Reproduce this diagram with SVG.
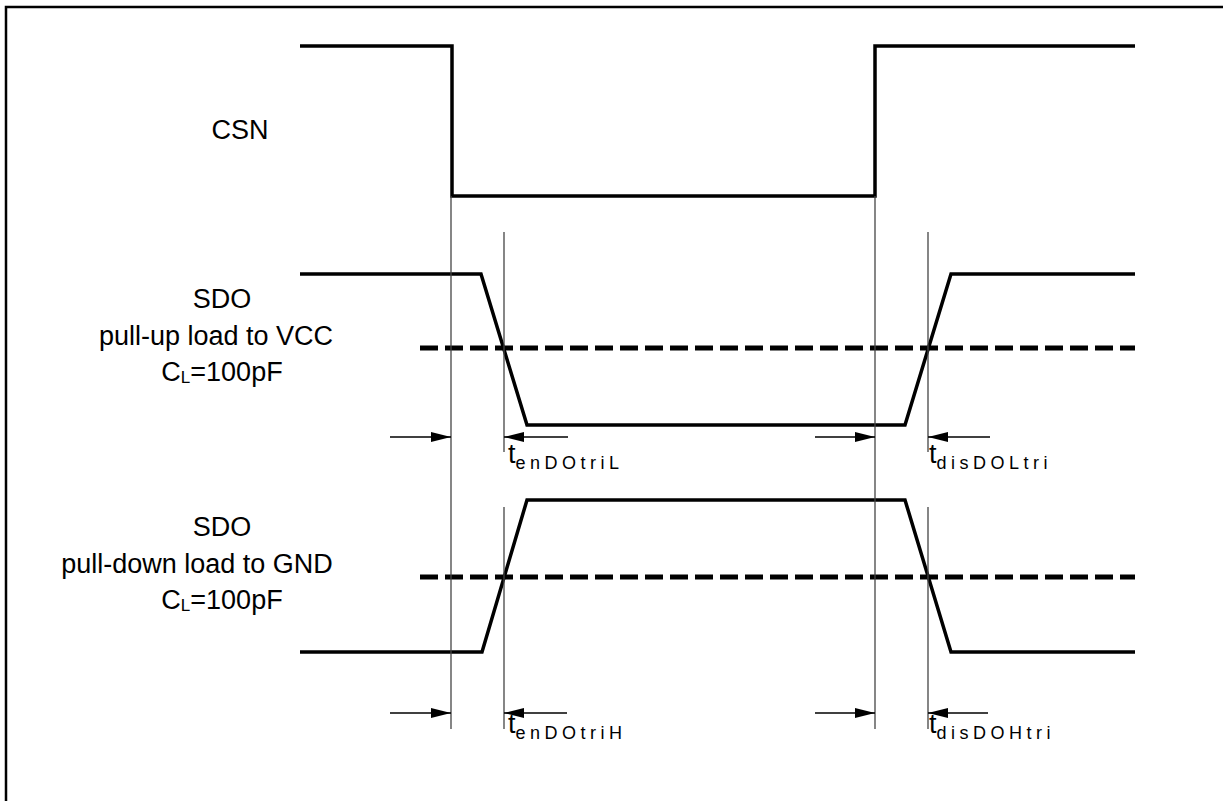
<svg xmlns="http://www.w3.org/2000/svg" width="1223" height="801" viewBox="0 0 1223 801">
<defs>
<style>
.wave{fill:none;stroke:#000;stroke-width:3.5;stroke-linejoin:miter}
.dash{fill:none;stroke:#000;stroke-width:5;stroke-dasharray:18 7}
.guide{stroke:#444;stroke-width:1.3}
.dim{stroke:#000;stroke-width:1.3;fill:none}
.lbl{font-family:"Liberation Sans",Arial,sans-serif;font-size:27px;fill:#000}
.t{font-family:"Liberation Sans",Arial,sans-serif;font-size:27px;fill:#000}
.sub{font-size:18px;letter-spacing:4.5px}
.csub{font-size:17px}
</style>
<marker id="ah" viewBox="0 0 20 10" refX="20" refY="5" markerWidth="20" markerHeight="10" markerUnits="userSpaceOnUse" orient="auto">
<path d="M0,0 L20,5 L0,10 Z" fill="#000"/>
</marker>
</defs>
<rect width="1223" height="801" fill="#fff"/>
<rect x="6" y="7" width="1240" height="820" fill="none" stroke="#000" stroke-width="2.5"/>

<g id="csn">
<path class="wave" d="M300,46 H452 V196 H875 V46 H1135"/>
<text class="lbl" x="240" y="139" text-anchor="middle">CSN</text>
</g>

<g id="sdo-pullup">
<path class="wave" d="M300,274 H481 L527,425 H905 L951,274 H1135"/>
<line class="dash" x1="420" y1="348" x2="1135" y2="348"/>
<text class="lbl" x="222" y="308" text-anchor="middle">SDO</text>
<text class="lbl" x="216" y="345" text-anchor="middle">pull-up load to VCC</text>
<text class="lbl" x="222" y="381" text-anchor="middle">C<tspan class="csub" dy="2">L</tspan><tspan dy="-2">=100pF</tspan></text>
</g>

<g id="sdo-pulldown">
<path class="wave" d="M300,652 H482 L527,500 H905 L951,652 H1135"/>
<line class="dash" x1="420" y1="577" x2="1135" y2="577"/>
<text class="lbl" x="222" y="536" text-anchor="middle">SDO</text>
<text class="lbl" x="197" y="573" text-anchor="middle">pull-down load to GND</text>
<text class="lbl" x="222" y="609" text-anchor="middle">C<tspan class="csub" dy="2">L</tspan><tspan dy="-2">=100pF</tspan></text>
</g>

<g id="timing-labels">
<text class="t" x="508" y="463">t<tspan class="sub" dy="6">enDOtriL</tspan></text>
<text class="t" x="929" y="463">t<tspan class="sub" dy="6">disDOLtri</tspan></text>
<text class="t" x="508" y="733">t<tspan class="sub" dy="6">enDOtriH</tspan></text>
<text class="t" x="929" y="733">t<tspan class="sub" dy="6">disDOHtri</tspan></text>
</g>

<g id="connectors">
<line class="guide" x1="451" y1="196" x2="451" y2="729"/>
<line class="guide" x1="875" y1="196" x2="875" y2="729"/>
<line class="guide" x1="504" y1="232" x2="504" y2="452"/>
<line class="guide" x1="504" y1="507" x2="504" y2="729"/>
<line class="guide" x1="928" y1="232" x2="928" y2="452"/>
<line class="guide" x1="928" y1="507" x2="928" y2="729"/>
<line class="dim" x1="390" y1="437" x2="451" y2="437" marker-end="url(#ah)"/>
<line class="dim" x1="568" y1="437" x2="504" y2="437" marker-end="url(#ah)"/>
<line class="dim" x1="815" y1="437" x2="875" y2="437" marker-end="url(#ah)"/>
<line class="dim" x1="990" y1="437" x2="928" y2="437" marker-end="url(#ah)"/>
<line class="dim" x1="390" y1="713" x2="451" y2="713" marker-end="url(#ah)"/>
<line class="dim" x1="567" y1="713" x2="504" y2="713" marker-end="url(#ah)"/>
<line class="dim" x1="815" y1="713" x2="875" y2="713" marker-end="url(#ah)"/>
<line class="dim" x1="988" y1="713" x2="928" y2="713" marker-end="url(#ah)"/>
</g>
</svg>
